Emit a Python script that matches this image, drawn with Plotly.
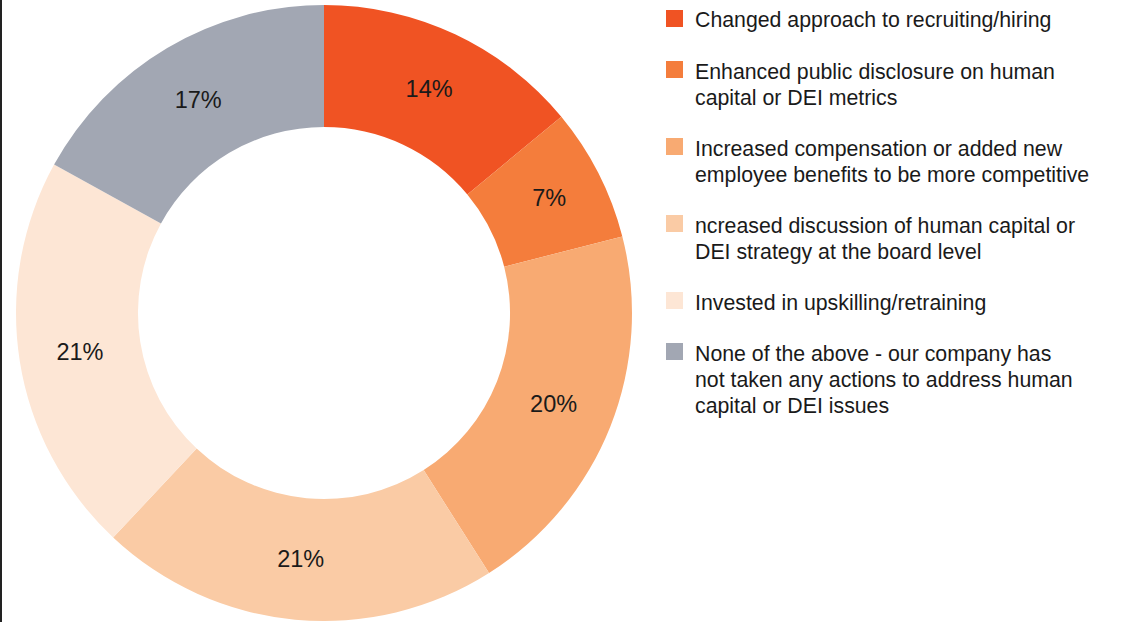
import plotly.graph_objects as go

labels = [
    "Changed approach to recruiting/hiring",
    "Enhanced public disclosure on human<br>capital or DEI metrics",
    "Increased compensation or added new<br>employee benefits to be more competitive",
    "ncreased discussion of human capital or<br>DEI strategy at the board level",
    "Invested in upskilling/retraining",
    "None of the above - our company has<br>not taken any actions to address human<br>capital or DEI issues",
]
values = [14, 7, 20, 21, 21, 17]
colors = ["#F05323", "#F47D3C", "#F8AA72", "#FACBA5", "#FDE6D5", "#A2A7B3"]

W, H = 1127, 622
FONT = "Liberation Sans, Arial, Helvetica, sans-serif"
TEXT_COLOR = "#1a1a1a"

fig = go.Figure()
fig.add_trace(go.Pie(
    labels=labels,
    values=values,
    marker=dict(colors=colors, line=dict(width=0)),
    hole=0.604,
    sort=False,
    direction="clockwise",
    rotation=0,
    texttemplate="%{value}%",
    textposition="inside",
    insidetextorientation="horizontal",
    textfont=dict(size=23.5, color=TEXT_COLOR, family=FONT),
    showlegend=False,
    hoverinfo="label+percent",
    domain=dict(x=[16 / W, 632 / W], y=[1 / H, 617 / H]),
))

# custom legend built from the label/colour lists
sq_x0, sq_size, text_x = 666, 17, 693
line_h, gap = 26, 25
LEG_FONT = 21.3
top = 10
shapes = []
annotations = []
for lab, col in zip(labels, colors):
    lines = lab.split("<br>")
    shapes.append(dict(
        type="rect", xref="paper", yref="paper",
        x0=sq_x0 / W, x1=(sq_x0 + sq_size) / W,
        y0=1 - (top + sq_size) / H, y1=1 - top / H,
        fillcolor=col, line=dict(width=0),
    ))
    for i, ln in enumerate(lines):
        yc = top + 10.5 + i * line_h
        annotations.append(dict(
            xref="paper", yref="paper",
            x=text_x / W, y=1 - yc / H,
            xanchor="left", yanchor="middle", align="left",
            text=ln, showarrow=False,
            font=dict(size=LEG_FONT, color=TEXT_COLOR, family=FONT),
        ))
    top += len(lines) * line_h + gap

# left border line
shapes.append(dict(
    type="line", xref="paper", yref="paper",
    x0=1 / W, x1=1 / W, y0=0, y1=1,
    line=dict(color="#222222", width=2),
))

fig.update_layout(
    width=W, height=H,
    margin=dict(l=0, r=0, t=0, b=0),
    paper_bgcolor="white",
    plot_bgcolor="white",
    shapes=shapes,
    annotations=annotations,
    font=dict(family=FONT, color=TEXT_COLOR),
)

fig.write_html(
    "out.html",
    config={"displayModeBar": False},
    post_script="document.body.style.margin='0';document.body.style.overflow='hidden';",
)
